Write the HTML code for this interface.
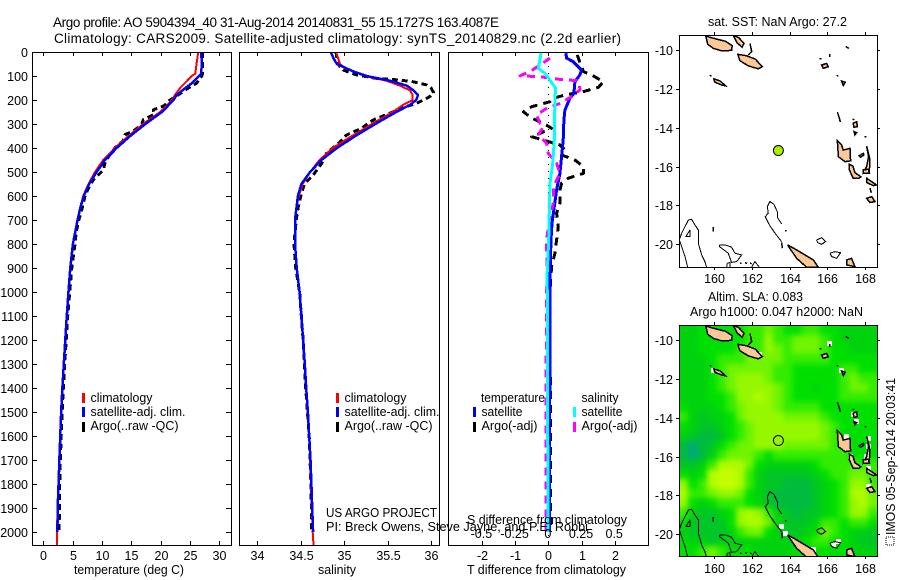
<!DOCTYPE html>
<html lang="en">
<head>
<meta charset="utf-8">
<title>Argo profile 5904394_40</title>
<style>
html,body{margin:0;padding:0;background:#fff;width:900px;height:580px;overflow:hidden}
svg{display:block}
text{font-family:"Liberation Sans",sans-serif;font-size:12.5px;fill:#000}
.crisp{shape-rendering:crispEdges}
</style>
</head>
<body>
<svg id="figure" xmlns="http://www.w3.org/2000/svg" width="900" height="580" viewBox="0 0 900 580">
  <defs>
    <clipPath id="clip-t"><rect x="32" y="52" width="199" height="493"/></clipPath>
    <clipPath id="clip-s"><rect x="240" y="52" width="199" height="493"/></clipPath>
    <clipPath id="clip-d"><rect x="448" y="52" width="200" height="493"/></clipPath>
    <clipPath id="clip-m1"><rect x="679" y="35" width="198" height="232"/></clipPath>
    <clipPath id="clip-m2"><rect x="679" y="325" width="198" height="231"/></clipPath>
    <filter id="heat-soften" filterUnits="userSpaceOnUse" x="650" y="295" width="250" height="285" color-interpolation-filters="sRGB"><feGaussianBlur stdDeviation="3"/></filter>
  </defs>
  <rect x="0" y="0" width="900" height="580" fill="#fff"/>

  <text x="53" y="27" style="font-size:13.5px" textLength="446" lengthAdjust="spacing">Argo profile: AO 5904394_40 31-Aug-2014 20140831_55 15.1727S 163.4087E</text>
  <text x="54" y="43" style="font-size:13.5px" textLength="567" lengthAdjust="spacing">Climatology: CARS2009. Satellite-adjusted climatology: synTS_20140829.nc (2.2d earlier)</text>

  <g id="panel-t"></g>
  <g id="panel-s"></g>
  <g id="panel-d"></g>
  <g id="map-1"></g>
  <g id="map-2"></g>

  <text x="74" y="574" textLength="110" lengthAdjust="spacingAndGlyphs">temperature (deg C)</text>
  <text x="318" y="574" textLength="38" lengthAdjust="spacingAndGlyphs">salinity</text>
  <text x="467" y="574" textLength="159" lengthAdjust="spacingAndGlyphs">T difference from climatology</text>
  <text x="467" y="524" textLength="160" lengthAdjust="spacingAndGlyphs">S difference from climatology</text>

  <g>
    <rect class="crisp" x="82" y="393" width="3" height="10" fill="#f00"/>
    <rect class="crisp" x="82" y="407" width="3" height="10" fill="#00f"/>
    <rect class="crisp" x="82" y="422" width="3" height="10" fill="#000"/>
    <text x="90.5" y="402" textLength="62" lengthAdjust="spacingAndGlyphs">climatology</text>
    <text x="90.5" y="416" textLength="95" lengthAdjust="spacingAndGlyphs">satellite-adj. clim.</text>
    <text x="90.5" y="430" textLength="88" lengthAdjust="spacingAndGlyphs">Argo(..raw -QC)</text>
  </g>
  <g>
    <rect class="crisp" x="336" y="393" width="3" height="10" fill="#f00"/>
    <rect class="crisp" x="336" y="407" width="3" height="10" fill="#00f"/>
    <rect class="crisp" x="336" y="422" width="3" height="10" fill="#000"/>
    <text x="344.5" y="402" textLength="62" lengthAdjust="spacingAndGlyphs">climatology</text>
    <text x="344.5" y="416" textLength="95" lengthAdjust="spacingAndGlyphs">satellite-adj. clim.</text>
    <text x="344.5" y="430" textLength="88" lengthAdjust="spacingAndGlyphs">Argo(..raw -QC)</text>
  </g>
  <g>
    <text x="481" y="402" textLength="64" lengthAdjust="spacingAndGlyphs">temperature</text>
    <text x="581.5" y="402" textLength="37" lengthAdjust="spacingAndGlyphs">salinity</text>
    <rect class="crisp" x="473" y="407" width="3" height="10" fill="#00f"/>
    <rect class="crisp" x="473" y="422" width="3" height="10" fill="#000"/>
    <rect class="crisp" x="573" y="407" width="3" height="10" fill="#0ff"/>
    <rect class="crisp" x="573" y="422" width="3" height="10" fill="#f0f"/>
    <text x="481.5" y="416" textLength="41" lengthAdjust="spacingAndGlyphs">satellite</text>
    <text x="481.5" y="430" textLength="56" lengthAdjust="spacingAndGlyphs">Argo(-adj)</text>
    <text x="581.5" y="416" textLength="41" lengthAdjust="spacingAndGlyphs">satellite</text>
    <text x="581.5" y="430" textLength="56" lengthAdjust="spacingAndGlyphs">Argo(-adj)</text>
  </g>

  <text x="326" y="517" textLength="111" lengthAdjust="spacingAndGlyphs">US ARGO PROJECT</text>
  <text x="326" y="531" textLength="262" lengthAdjust="spacingAndGlyphs">PI: Breck Owens, Steve Jayne, and P.E. Robbi</text>

  <text x="708" y="26" textLength="139" lengthAdjust="spacingAndGlyphs">sat. SST: NaN Argo: 27.2</text>
  <text x="708" y="301" textLength="95" lengthAdjust="spacingAndGlyphs">Altim. SLA: 0.083</text>
  <text x="690" y="316" textLength="173" lengthAdjust="spacingAndGlyphs">Argo h1000: 0.047 h2000: NaN</text>

  <rect class="crisp" x="886" y="537" width="8" height="8" fill="none" stroke="#000" stroke-width="1" stroke-dasharray="1 1"/>
  <text transform="translate(895,535) rotate(-90)" x="0" y="0" textLength="157" lengthAdjust="spacingAndGlyphs">IMOS 05-Sep-2014 20:03:41</text>
</svg>

<script>
/* ---------- profile data (depth in metres) ---------- */
const climTDepth = [0,50,90,100,130,150,180,200,250,300,350,400,450,500,550,600,650,700,800,900,1000,1100,1200,1300,1400,1500,1600,1700,1800,1900,2000,2054];
const climT = [26.4,26.1,25.9,25.3,24.1,23.3,22.4,21.9,19.9,17,14.5,12.2,10.2,8.8,7.7,6.8,6.25,5.8,5,4.55,4.25,3.95,3.7,3.45,3.2,3.0,2.85,2.7,2.55,2.4,2.35,2.35];
const satTDepth = [0,50,90,100,130,150,180,200,250,300,350,400,450,500,550,600,650,700,800,900,1000,1100,1200,1300,1400,1500,1600,1700,1800,1900,2000];
const satT = [26.9,27,26.9,26.5,25.3,24.2,22.7,22.2,20.2,17.4,14.8,12.5,10.5,9.1,7.8,6.9,6.3,5.85,5.05,4.6,4.3,4.0,3.75,3.5,3.25,3.05,2.9,2.75,2.6,2.45,2.4];
const argoTDepth = [0,90,100,130,150,180,200,225,241,260,283,300,325,345,370,400,436,464,492,533,567,600,644,700,750,800,900,1000,1100,1200,1300,1400,1500,1600,1700,1800,1900,2000];
const argoT = [27.1,27.1,27,26.1,24.7,22.9,21.6,20.5,18.75,18.9,17,16.8,15.6,13.9,13.6,12.2,11.1,10.5,10.2,8.5,7.7,7.1,6.7,6.05,5.6,5.4,4.85,4.5,4.15,3.9,3.65,3.4,3.2,3.05,2.9,2.8,2.75,2.7];

const climSDepth = [0,50,68,100,120,140,160,180,200,220,250,300,350,400,450,500,550,600,650,700,800,900,1000,1100,1200,1300,1400,1500,1600,1700,1800,1900,2000,2054];
const climS = [34.908,34.954,35.01,35.24,35.49,35.64,35.76,35.79,35.79,35.68,35.56,35.32,35.09,34.87,34.72,34.61,34.525,34.48,34.45,34.437,34.437,34.456,34.487,34.51,34.53,34.55,34.563,34.58,34.6,34.61,34.62,34.63,34.64,34.65];
const satSDepth = [0,30,50,80,100,120,140,160,180,200,220,250,300,350,400,450,500,550,600,700,800,900,1000,1100,1200,1300,1400,1500,1600,1700,1800,1900,2000];
const satS = [34.847,34.885,34.92,35.1,35.26,35.53,35.72,35.80,35.85,35.83,35.76,35.6,35.36,35.13,34.92,34.74,34.61,34.51,34.47,34.437,34.437,34.456,34.49,34.51,34.53,34.55,34.565,34.585,34.6,34.615,34.625,34.635,34.645];
const argoSDepth = [0,30,50,75,96,110,117,124,137,150,169,185,193,214,235,249,283,318,346,381,422,464,512,547,589,644,700,800,900,1000,1200,1400,1600,1800,2000];
const argoS = [34.908,34.92,34.93,34.99,35.146,35.376,35.644,35.797,35.95,36.0,36.03,35.99,35.95,35.835,35.644,35.567,35.337,35.2,35.03,34.935,34.80,34.744,34.647,34.55,34.51,34.475,34.45,34.425,34.445,34.49,34.53,34.56,34.6,34.62,34.63];

const diffSatTDepth = [5,26,40,75,96,124,172,193,242,283,367,436,506,575,644,714,783,922,1200,1600,2000];
const diffSatT = [0.53,0.55,0.75,1.0,0.95,0.8,0.77,0.65,0.5,0.47,0.45,0.4,0.35,0.25,0.18,0.11,0.08,0.05,0.05,0.04,0.03];
const diffArgoTDepth = [12,47,82,96,124,147,165,179,193,207,228,249,276,297,318,339,353,367,387,408,429,450,478,506,526,547,575,630,672,728,783,839,894,992,1400,1700,2000];
const diffArgoT = [0.87,0.96,1.06,1.31,1.66,1.51,1.06,0.5,0.15,0.05,-0.5,-0.75,-0.5,-0.15,0.1,-0.25,-0.5,-0.15,0.35,0.5,0.4,0.8,1.06,1.06,0.6,0.4,0.35,0.35,0.25,0.3,0.25,0.2,0.1,0.05,0.06,0.07,0.07];
const diffSatSDepth = [5,33,68,89,117,151,200,367,464,547,644,783,922,1400,2000];
const diffSatS = [-0.055,-0.063,-0.075,-0.025,0.0125,0.055,0.05,0.045,0.033,0.0125,0.008,0.003,-0.008,-0.005,-0.002];
const diffArgoSDepth = [26,54,82,99,103,114,119,137,158,186,214,235,262,297,311,346,381,422,464,506,561,630,700,783,839,894,992,1500,2000];
const diffArgoS = [0.0125,-0.063,-0.138,-0.213,-0.063,0.088,0.213,0.234,0.239,0.176,0.088,-0.0125,-0.088,-0.063,-0.038,-0.075,-0.0125,0,0.063,0.088,0.038,0.038,0.0075,-0.0125,-0.0125,-0.008,-0.0125,-0.018,-0.018];

/* ---------- tick labels ---------- */
const depthTicks = [0,100,200,300,400,500,600,700,800,900,1000,1100,1200,1300,1400,1500,1600,1700,1800,1900,2000];
const tempTicks = [0,5,10,15,20,25,30];
const salTicks = [34,34.5,35,35.5,36];
const salTickLabels = ['34','34.5','35','35.5','36'];
const diffTTicks = [-2,-1,0,1,2];
const diffSTicks = [-0.5,-0.25,0,0.25,0.5];
const diffSTickLabels = ['-0.5','-0.25','0','0.25','0.5'];
const lonTicks = [160,162,164,166,168];
const latTicks = [-10,-12,-14,-16,-18,-20];

/* ---------- float position ---------- */
const floatLon = 163.4087;
const floatLat = -15.1727;

/* ---------- SLA colour-level grid, rows north to south, 0.5 degree blocks ---------- */
const slaRow00 = [3,3,4,4,4,4,4,5,5,6,5,4,4,5,5,4,4,3,3,3,3];
const slaRow01 = [3,3,4,4,4,4,4,5,5,7,5,5,6,6,6,5,4,3,3,3,3];
const slaRow02 = [3,3,4,4,4,4,5,5,5,7,6,5,6,6,6,5,4,4,3,3,3];
const slaRow03 = [3,3,3,4,5,5,5,6,6,6,6,5,5,5,5,5,4,4,4,4,4];
const slaRow04 = [3,3,3,4,5,6,6,6,6,6,5,5,4,4,4,4,4,5,5,4,4];
const slaRow05 = [3,3,3,4,5,6,7,7,7,6,5,5,4,4,4,4,4,5,6,5,5];
const slaRow06 = [3,3,3,4,5,6,7,7,7,7,6,5,4,4,3,4,4,5,6,6,5];
const slaRow07 = [3,3,3,4,4,5,7,7,8,7,6,5,4,4,4,4,4,5,5,5,5];
const slaRow08 = [4,3,3,3,4,5,6,7,7,7,6,5,5,5,5,4,4,4,4,4,4];
const slaRow09 = [5,3,2,3,3,4,6,7,7,7,7,6,6,6,6,5,4,4,4,4,4];
const slaRow10 = [4,3,2,2,3,4,5,6,7,7,7,7,7,7,7,6,5,4,4,4,4];
const slaRow11 = [3,2,1,1,2,4,5,6,7,7,7,7,7,7,7,6,5,4,4,4,4];
const slaRow12 = [1,0,1,2,4,5,6,6,7,7,7,6,6,6,6,6,5,5,4,4,4];
const slaRow13 = [1,0,1,3,5,6,6,6,5,4,5,5,5,5,5,5,5,5,4,4,4];
const slaRow14 = [2,2,3,5,8,8,8,6,4,3,3,3,3,3,4,5,5,5,5,5,5];
const slaRow15 = [4,3,4,8,9,9,8,5,3,2,2,2,2,2,3,4,5,5,6,6,5];
const slaRow16 = [7,4,5,8,9,9,8,5,3,2,2,1,1,1,2,3,4,5,7,7,5];
const slaRow17 = [8,5,5,6,7,7,6,4,3,2,1,1,1,1,2,3,4,5,8,8,6];
const slaRow18 = [7,4,3,4,5,5,5,4,3,2,1,1,1,1,2,3,4,5,7,8,6];
const slaRow19 = [5,3,2,2,3,4,7,8,7,5,3,2,1,2,2,3,4,5,7,7,5];
const slaRow20 = [4,2,2,2,2,4,7,8,8,6,3,2,2,2,3,5,5,4,5,5,4];
const slaRow21 = [3,2,2,2,2,3,5,6,6,4,3,2,2,3,4,6,5,4,3,3,2];
const slaRow22 = [4,3,3,2,3,3,3,3,3,3,3,3,3,4,5,5,4,4,3,2,2];
const slaRow23 = [4,4,5,6,5,4,4,4,3,3,3,3,4,4,4,4,4,4,3,3,3];
const slaLevels = [slaRow00,slaRow01,slaRow02,slaRow03,slaRow04,slaRow05,slaRow06,slaRow07,slaRow08,slaRow09,slaRow10,slaRow11,slaRow12,slaRow13,slaRow14,slaRow15,slaRow16,slaRow17,slaRow18,slaRow19,slaRow20,slaRow21,slaRow22,slaRow23];
const slaColours = ['#00aa78','#00bb40','#00c626','#00d20e','#00e000','#34ec00','#70f400','#96f800','#aefb00','#c4fd00'];

/* no-data cells [lon, lat] */
const nanLon = [166.15,166.77,167.39,167.54,167.04,168.19,168.19,168.10,167.22,168.19,168.19,163.58,163.79,165.27,166.33,166.60,160.39,159.95,162.43];
const nanLat = [-10.17,-11.58,-13.86,-14.2,-14.97,-15.06,-15.49,-16,-16,-16.6,-17.55,-19.6,-19.95,-20.8,-20.5,-20.38,-9.91,-11.58,-10.77];

/* coastlines as [lon, lat] */
const landIsabel = [[159.55,-9.28],[159.9,-9.38],[160.25,-9.47],[160.6,-9.55],[160.95,-9.78],[160.92,-10.02],[160.39,-10.04],[159.95,-9.92],[159.65,-9.7]];
const landMalaita = [[161.01,-9.25],[161.3,-9.36],[161.58,-9.66],[161.48,-9.86],[161.2,-9.62]];
const landGuadalcanal = [[161.25,-10.22],[161.72,-10.3],[162.18,-10.47],[162.55,-10.86],[162.34,-10.97],[161.81,-10.82],[161.36,-10.55]];
const landRennell = [[159.98,-11.48],[160.32,-11.6],[160.6,-11.85],[160.39,-11.8],[160.02,-11.65]];
const landCruz = [[165.71,-10.77],[165.98,-10.69],[166.06,-10.86],[165.80,-10.94]];
const landTikopia = [[166.77,-11.6],[166.97,-11.66],[166.86,-11.82]];
const landSanto = [[166.54,-14.67],[166.77,-14.89],[166.86,-15.15],[167.22,-15.06],[167.25,-15.70],[166.95,-15.75],[166.60,-15.49]];
const landMalekula = [[167.17,-15.87],[167.37,-15.97],[167.48,-16.31],[167.79,-16.52],[167.71,-16.60],[167.39,-16.60],[167.18,-16.17]];
const landPentecost = [[168.10,-14.94],[168.21,-15.49],[168.10,-16.0],[167.93,-16.35],[168.25,-16.26],[168.27,-15.6]];
const landEfate = [[168.10,-16.6],[168.37,-16.78],[168.63,-16.95],[168.46,-16.98],[168.10,-16.82]];
const landErromango = [[168.10,-17.63],[168.37,-17.55],[168.55,-17.80],[168.28,-17.85]];
const landCaledonia = [[163.90,-20.03],[164.38,-20.29],[165.27,-20.81],[165.53,-21.18],[164.91,-21.18],[164.38,-20.72],[164.02,-20.21]];
const landLoyalty = [[167.04,-20.81],[167.30,-20.72],[167.48,-21.15],[167.04,-21.06]];
const landBanks = [[167.39,-13.77],[167.57,-13.69],[167.61,-13.95],[167.43,-13.98]];
const landBanks2 = [[167.43,-14.2],[167.57,-14.25],[167.48,-14.37]];
const landAmbae = [[167.71,-15.44],[167.93,-15.32],[167.96,-15.40],[167.78,-15.52]];
const landEpi = [[167.93,-16.17],[168.19,-16.14],[168.25,-16.35],[167.93,-16.35]];
const landPolygons = [landIsabel,landMalaita,landGuadalcanal,landRennell,landCruz,landTikopia,landSanto,landMalekula,landPentecost,landEfate,landErromango,landCaledonia,landLoyalty,landBanks,landBanks2,landAmbae,landEpi];

/* 2000 m-ish contour and small-reef lines as [lon, lat] */
const reefChesterfield = [[163.58,-18.95],[163.35,-18.61],[163.35,-18.32],[163.17,-17.94],[162.96,-17.80],[162.82,-18.06],[162.87,-18.40],[162.71,-18.58],[162.93,-19.0],[163.23,-19.43],[163.58,-19.86]];
const reefWest = [[158.58,-21.17],[158.44,-20.63],[158.26,-20.12],[158.14,-19.78],[158.26,-19.43],[158.44,-19.09],[158.62,-18.75],[158.79,-18.71],[158.97,-19.0],[159.15,-19.26],[159.15,-19.95],[159.33,-20.55],[159.50,-20.89],[159.59,-21.17]];
const reefWestInner = [[158.71,-19.26],[158.49,-19.6],[158.71,-19.6],[158.71,-19.26]];
const reefBellona = [[160.27,-20.03],[160.57,-20.03],[160.92,-20.15],[161.10,-20.46],[161.45,-20.55],[161.19,-20.89],[160.92,-20.93],[160.74,-20.46],[160.27,-20.12],[160.27,-20.03]];
const reefBottomA = [[160.66,-21.17],[160.69,-20.98],[160.83,-20.93],[160.83,-21.17]];
const reefBottomB = [[161.99,-21.17],[162.16,-20.89],[162.39,-21.17]];
const reefLoop = [[165.44,-19.78],[165.71,-19.66],[165.92,-19.86],[165.71,-20],[165.50,-19.91],[165.44,-19.78]];
const reefOuvea = [[166.15,-20.46],[166.42,-20.38],[166.72,-20.43],[166.51,-20.72],[166.24,-20.63],[166.15,-20.46]];
const contourLines = [reefChesterfield,reefWest,reefWestInner,reefBellona,reefBottomA,reefBottomB,reefLoop,reefOuvea];

const scrapMalaita = [[161.90,-9.66],[161.99,-10.09],[161.81,-10.26]];
const scrapA = [[159.95,-19.1],[159.95,-19.35]];
const scrapB = [[161.36,-20.98],[161.45,-20.98]];
const scrapC = [[161.63,-20.95],[161.75,-20.98]];
const scrapD = [[161.90,-20.98],[161.99,-21.0]];
const scrapE = [[167.0,-9.82],[167.15,-9.92]];
const scrapF = [[166.15,-10.2],[166.15,-10.35]];
const scrapG = [[165.6,-10.45],[165.7,-10.45]];
const scrapH = [[166.5,-11.3],[166.6,-11.35]];
const scrapI = [[166.55,-13.2],[166.65,-13.5],[166.7,-13.7]];
const scrapJ = [[167.35,-13.55],[167.45,-13.6]];
const scrapK = [[168.0,-14.45],[168.1,-14.45]];
const scrapL = [[159.75,-11.3],[159.85,-11.35]];
const scrapM = [[168.28,-17.1],[168.35,-17.35]];
const scrapN = [[163.75,-19.3],[163.85,-19.3]];
const scrapO = [[163.58,-19.9],[163.62,-20.2]];
const scrapLines = [scrapMalaita,scrapA,scrapB,scrapC,scrapD,scrapE,scrapF,scrapG,scrapH,scrapI,scrapJ,scrapK,scrapL,scrapM,scrapN,scrapO];

/* ---------- helpers ---------- */
const NS = 'http://www.w3.org/2000/svg';
function make(parent, tag, attrs, name) {
  const el = document.createElementNS(NS, tag);
  for (const k in attrs) el.setAttribute(k, attrs[k]);
  
  
  parent.appendChild(el);
  return el;
}
function label(parent, x, y, str, anchor, name) {
  const el = make(parent, 'text', {x: x, y: y, 'text-anchor': anchor}, name);
  el.textContent = str;
  return el;
}
function tick(parent, x1, y1, x2, y2, name) {
  make(parent, 'line', {x1: x1, y1: y1, x2: x2, y2: y2, stroke: '#000', 'stroke-width': 1, class: 'crisp'}, name);
}

/* ---------- axes ---------- */
const PLOT_TOP = 52, PLOT_BOTTOM = 545;
function depthY(d) { return 52 + d * 0.24; }
function tempX(t) { return 43.3 + t * 5.87; }
function salX(s) { return 257 + (s - 34) * 87; }
function diffTX(t) { return 548.3 + t * 33.2; }
function diffSX(s) { return 548.3 + s * 132.8; }

function profile(parent, depths, values, xFn, colour, width, dash, clip, name) {
  const pts = depths.map(function (d, i) { return xFn(values[i]).toFixed(1) + ',' + depthY(d).toFixed(1); }).join(' ');
  const attrs = {points: pts, fill: 'none', stroke: colour, 'stroke-width': width, class: 'crisp', 'clip-path': 'url(#' + clip + ')', 'stroke-linejoin': 'round'};
  if (dash) attrs['stroke-dasharray'] = dash;
  make(parent, 'polyline', attrs, name);
}
function frame(parent, x, y, w, h, name) {
  make(parent, 'rect', {x: x + 0.5, y: y + 0.5, width: w, height: h, fill: 'none', stroke: '#000', 'stroke-width': 1, class: 'crisp'}, name);
}

/* ---------- temperature panel ---------- */
const pT = document.getElementById('panel-t');
profile(pT, argoTDepth, argoT, tempX, '#000', 3, '6 4', 'clip-t', 'argo-temperature-line');
profile(pT, climTDepth, climT, tempX, '#f00', 2, null, 'clip-t', 'climatology-temperature-line');
profile(pT, satTDepth, satT, tempX, '#00f', 2.5, null, 'clip-t', 'satellite-temperature-line');
frame(pT, 32, 52, 199, 493, 'temperature-frame');
depthTicks.forEach(function (d) {
  const y = Math.round(depthY(d));
  tick(pT, 32, y + 0.5, 37, y + 0.5, 'depth-tick-left');
  tick(pT, 226, y + 0.5, 231, y + 0.5, 'depth-tick-right');
  label(pT, 28, y + 5, String(d), 'end', 'depth-tick-label');
});
tempTicks.forEach(function (t) {
  const x = Math.round(tempX(t));
  tick(pT, x + 0.5, PLOT_TOP, x + 0.5, PLOT_TOP + 4, 'temperature-tick-top');
  tick(pT, x + 0.5, PLOT_BOTTOM - 4, x + 0.5, PLOT_BOTTOM, 'temperature-tick-bottom');
  label(pT, x + 0.5, 560, String(t), 'middle', 'temperature-tick-label');
});

/* ---------- salinity panel ---------- */
const pS = document.getElementById('panel-s');
profile(pS, argoSDepth, argoS, salX, '#000', 3, '6 4', 'clip-s', 'argo-salinity-line');
profile(pS, climSDepth, climS, salX, '#f00', 2, null, 'clip-s', 'climatology-salinity-line');
profile(pS, satSDepth, satS, salX, '#00f', 2.5, null, 'clip-s', 'satellite-salinity-line');
frame(pS, 239, 52, 200, 493, 'salinity-frame');
salTicks.forEach(function (s, i) {
  const x = Math.round(salX(s));
  tick(pS, x + 0.5, PLOT_TOP, x + 0.5, PLOT_TOP + 4, 'salinity-tick-top');
  tick(pS, x + 0.5, PLOT_BOTTOM - 4, x + 0.5, PLOT_BOTTOM, 'salinity-tick-bottom');
  label(pS, x + 0.5, 560, salTickLabels[i], 'middle', 'salinity-tick-label');
});

/* ---------- difference panel ---------- */
const pD = document.getElementById('panel-d');
make(pD, 'line', {x1: 548.5, y1: 52, x2: 548.5, y2: 545, stroke: '#000', 'stroke-width': 1, 'stroke-dasharray': '1 6', class: 'crisp'}, 'zero-difference-line');
profile(pD, diffArgoTDepth, diffArgoT, diffTX, '#000', 3, '8 6', 'clip-d', 'argo-temperature-difference-line');
profile(pD, diffSatTDepth, diffSatT, diffTX, '#00f', 3, null, 'clip-d', 'satellite-temperature-difference-line');
profile(pD, diffArgoSDepth, diffArgoS, diffSX, '#f0f', 3, '8 6', 'clip-d', 'argo-salinity-difference-line');
profile(pD, diffSatSDepth, diffSatS, diffSX, '#0ff', 3, null, 'clip-d', 'satellite-salinity-difference-line');
frame(pD, 448, 52, 200, 493, 'difference-frame');
diffTTicks.forEach(function (t) {
  const x = Math.round(diffTX(t));
  tick(pD, x + 0.5, PLOT_TOP, x + 0.5, PLOT_TOP + 4, 'difference-tick-top');
  tick(pD, x + 0.5, PLOT_BOTTOM - 4, x + 0.5, PLOT_BOTTOM, 'difference-tick-bottom');
  label(pD, x + 0.5, 560, String(t), 'middle', 'temperature-difference-tick-label');
});
diffSTicks.forEach(function (s, i) {
  label(pD, diffSX(s) - 0.5, 538, diffSTickLabels[i], 'middle', 'salinity-difference-tick-label');
});

/* ---------- maps ---------- */
function lonX(lon) { return 714.3 + (lon - 160) * 18.8; }
function latY(lat, top) { return top + 15 + (-10 - lat) * 19.43; }

function drawMap(g, top, h, clip, dotColour, withHeat, captionY) {
  const grp = make(g, 'g', {'clip-path': 'url(#' + clip + ')'}, 'map-contents');
  if (withHeat) {
    const heat = make(grp, 'g', {filter: 'url(#heat-soften)'}, 'sla-heatmap');
    const nr = slaLevels.length;
    slaLevels.forEach(function (row, r) {
      const nc = row.length;
      row.forEach(function (level, c) {
        let x0 = Math.round(679 + 198 * c / nc), x1 = Math.round(679 + 198 * (c + 1) / nc);
        let y0 = Math.round(top + h * r / nr), y1 = Math.round(top + h * (r + 1) / nr);
        if (c === 0) x0 -= 14;
        if (c === nc - 1) x1 += 14;
        if (r === 0) y0 -= 14;
        if (r === nr - 1) y1 += 14;
        make(heat, 'rect', {x: x0, y: y0, width: x1 - x0, height: y1 - y0, fill: slaColours[level], class: 'crisp'}, 'sla-cell');
      });
    });
    nanLon.forEach(function (lon, i) {
      make(grp, 'rect', {x: Math.round(lonX(lon) - 2.5), y: Math.round(latY(nanLat[i], top) - 2.5), width: 5, height: 5, fill: '#fff', class: 'crisp'}, 'no-data-cell');
    });
  }
  contourLines.forEach(function (line) {
    make(grp, 'polyline', {points: line.map(function (p) { return lonX(p[0]).toFixed(1) + ',' + latY(p[1], top).toFixed(1); }).join(' '), fill: 'none', stroke: '#000', 'stroke-width': 1, class: 'crisp'}, 'depth-contour');
  });
  landPolygons.forEach(function (poly) {
    make(grp, 'polygon', {points: poly.map(function (p) { return lonX(p[0]).toFixed(1) + ',' + latY(p[1], top).toFixed(1); }).join(' '), fill: '#fcc896', stroke: '#000', 'stroke-width': 1.5, class: 'crisp'}, 'island');
  });
  scrapLines.forEach(function (line) {
    make(grp, 'polyline', {points: line.map(function (p) { return lonX(p[0]).toFixed(1) + ',' + latY(p[1], top).toFixed(1); }).join(' '), fill: 'none', stroke: '#000', 'stroke-width': 1.5, class: 'crisp'}, 'small-island');
  });
  make(grp, 'circle', {cx: lonX(floatLon), cy: latY(floatLat, top), r: 5, fill: dotColour, stroke: '#000', 'stroke-width': 1}, 'argo-float-marker');
  frame(g, 679, top, 198, h, 'map-frame');
  lonTicks.forEach(function (lon) {
    const x = Math.round(lonX(lon));
    tick(g, x + 0.5, top - 3, x + 0.5, top, 'longitude-tick-top');
    tick(g, x + 0.5, top + h, x + 0.5, top + h + 3, 'longitude-tick-bottom');
    label(g, x + 0.5, captionY, String(lon), 'middle', 'longitude-tick-label');
  });
  latTicks.forEach(function (lat) {
    const y = Math.round(latY(lat, top));
    tick(g, 676, y + 0.5, 679, y + 0.5, 'latitude-tick-left');
    tick(g, 877, y + 0.5, 880, y + 0.5, 'latitude-tick-right');
    label(g, 673, y + 5, String(lat), 'end', 'latitude-tick-label');
  });
}
drawMap(document.getElementById('map-1'), 35, 232, 'clip-m1', '#a8f000', false, 283);
drawMap(document.getElementById('map-2'), 325, 231, 'clip-m2', '#96f400', true, 573);
</script>
</body>
</html>
